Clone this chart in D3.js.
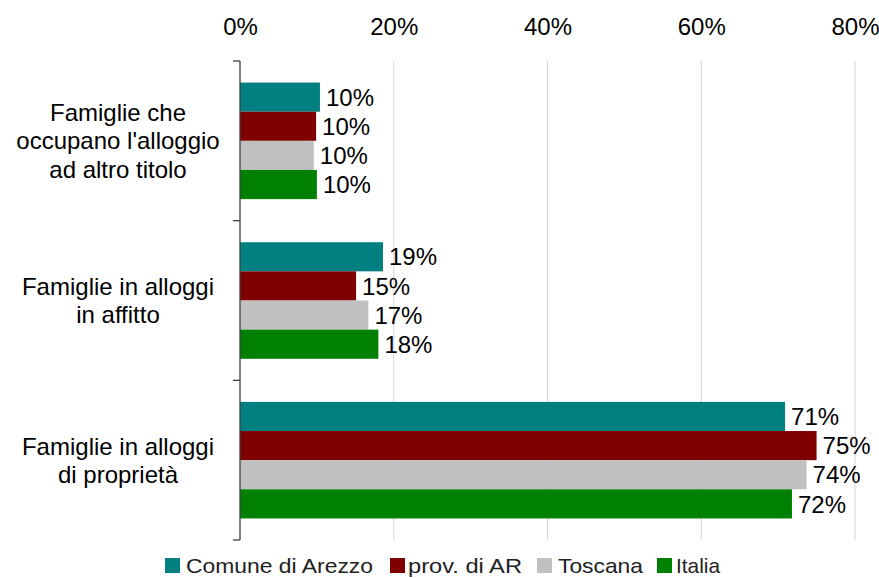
<!DOCTYPE html>
<html>
<head>
<meta charset="utf-8">
<script src="https://cdn.jsdelivr.net/npm/d3@7"></script>
<style>
  html, body { margin: 0; padding: 0; background: #ffffff; }
  svg { display: block; font-family: "Liberation Sans", Arial, sans-serif; }
</style>
</head>
<body>
<svg id="chart" width="879" height="578"></svg>
<script>
// Housing tenure of households: Arezzo municipality vs province, region and country
const categories = [
  "Famiglie che occupano l'alloggio ad altro titolo",
  "Famiglie in alloggi in affitto",
  "Famiglie in alloggi di proprietà"
];
const categoryLines = [
  ["Famiglie che", "occupano l'alloggio", "ad altro titolo"],
  ["Famiglie in alloggi", "in affitto"],
  ["Famiglie in alloggi", "di proprietà"]
];
const seriesNames = ["Comune di Arezzo", "prov. di AR", "Toscana", "Italia"];
const comuneArezzo = [0.104, 0.186, 0.709];
const provAR       = [0.099, 0.151, 0.750];
const toscana      = [0.096, 0.167, 0.737];
const italia       = [0.100, 0.180, 0.718];
const seriesValues = [comuneArezzo, provAR, toscana, italia];
const seriesColors = ["#008080", "#800000", "#c0c0c0", "#008000"];
const xTicks = [0, 0.2, 0.4, 0.6, 0.8];

const svg = d3.select("#chart");
const pct = d3.format(".0%");

const x = d3.scaleLinear().domain([0, 0.8]).range([240, 855]);
const y = d3.scaleBand().domain(categories).range([61, 540])
  .paddingInner(0.27).paddingOuter(0.135);
const ySub = d3.scaleBand().domain(seriesNames).range([0, y.bandwidth()]);
const color = d3.scaleOrdinal().domain(seriesNames).range(seriesColors);

// Vertical gridlines
svg.append("g")
  .selectAll("line")
  .data(xTicks.filter(d => d > 0))
  .join("line")
  .attr("x1", d => x(d)).attr("x2", d => x(d))
  .attr("y1", 61).attr("y2", 540)
  .attr("stroke", "#d4d4d4").attr("stroke-width", 1);

// Top axis labels
const xAxis = svg.append("g")
  .attr("transform", "translate(0,35)")
  .call(d3.axisTop(x).tickValues(xTicks).tickFormat(d3.format(".0%")).tickSize(0).tickPadding(0));
xAxis.select(".domain").remove();
xAxis.selectAll("text")
  .attr("font-size", 24)
  .attr("font-family", "'Liberation Sans', Arial, sans-serif")
  .attr("fill", "#000")
  .attr("dy", 0);

// Bars
const rows = [];
categories.forEach((c, ci) => {
  seriesNames.forEach((s, si) => {
    rows.push({ category: c, series: s, value: seriesValues[si][ci] });
  });
});

const groups = svg.append("g")
  .selectAll("g")
  .data(categories)
  .join("g")
  .attr("transform", d => `translate(0,${y(d)})`);

groups.selectAll("rect")
  .data(c => rows.filter(r => r.category === c))
  .join("rect")
  .attr("x", x(0))
  .attr("y", d => ySub(d.series))
  .attr("width", d => x(d.value) - x(0))
  .attr("height", ySub.bandwidth())
  .attr("fill", d => color(d.series));

groups.selectAll("text")
  .data(c => rows.filter(r => r.category === c))
  .join("text")
  .attr("x", d => x(d.value) + 6)
  .attr("y", d => ySub(d.series) + ySub.bandwidth() / 2)
  .attr("dy", "0.36em")
  .attr("font-size", 24)
  .attr("fill", "#000")
  .text(d => pct(d.value));

// Left axis line with boundary ticks
const yAxis = svg.append("g").attr("transform", `translate(${x(0)},0)`);
yAxis.append("line")
  .attr("x1", 0).attr("x2", 0).attr("y1", 61).attr("y2", 540)
  .attr("stroke", "#404040").attr("stroke-width", 1.3);
const boundaries = [61].concat(categories.map(c => y(c) + y.bandwidth() + y.step() * 0.135));
yAxis.selectAll("line.tick")
  .data(boundaries)
  .join("line")
  .attr("class", "tick")
  .attr("x1", -7).attr("x2", 0)
  .attr("y1", d => d).attr("y2", d => d)
  .attr("stroke", "#404040").attr("stroke-width", 1.3);

// Category labels
const lineH = 28.5;
svg.append("g")
  .selectAll("text")
  .data(categories)
  .join("text")
  .attr("text-anchor", "middle")
  .attr("font-size", 24)
  .attr("fill", "#000")
  .each(function (c, i) {
    const lines = categoryLines[i];
    const cy = y(c) + y.bandwidth() / 2;
    const start = cy - (lines.length - 1) * lineH / 2;
    d3.select(this).selectAll("tspan")
      .data(lines)
      .join("tspan")
      .attr("x", 118)
      .attr("y", (d, j) => start + j * lineH)
      .attr("dy", "0.36em")
      .text(d => d);
  });

// Legend
const legendItems = [
  { name: seriesNames[0], sx: 165, tx: 186, tw: 187 },
  { name: seriesNames[1], sx: 390, tx: 408, tw: 114 },
  { name: seriesNames[2], sx: 537, tx: 558, tw: 85 },
  { name: seriesNames[3], sx: 657, tx: 676, tw: 44 }
];
const legend = svg.append("g");
legend.selectAll("rect")
  .data(legendItems)
  .join("rect")
  .attr("x", d => d.sx).attr("y", 558)
  .attr("width", 15).attr("height", 15)
  .attr("fill", d => color(d.name));
legend.selectAll("text")
  .data(legendItems)
  .join("text")
  .attr("x", d => d.tx).attr("y", 573)
  .attr("font-size", 21)
  .attr("fill", "#222")
  .attr("textLength", d => d.tw)
  .attr("lengthAdjust", "spacingAndGlyphs")
  .text(d => d.name);
</script>
</body>
</html>
